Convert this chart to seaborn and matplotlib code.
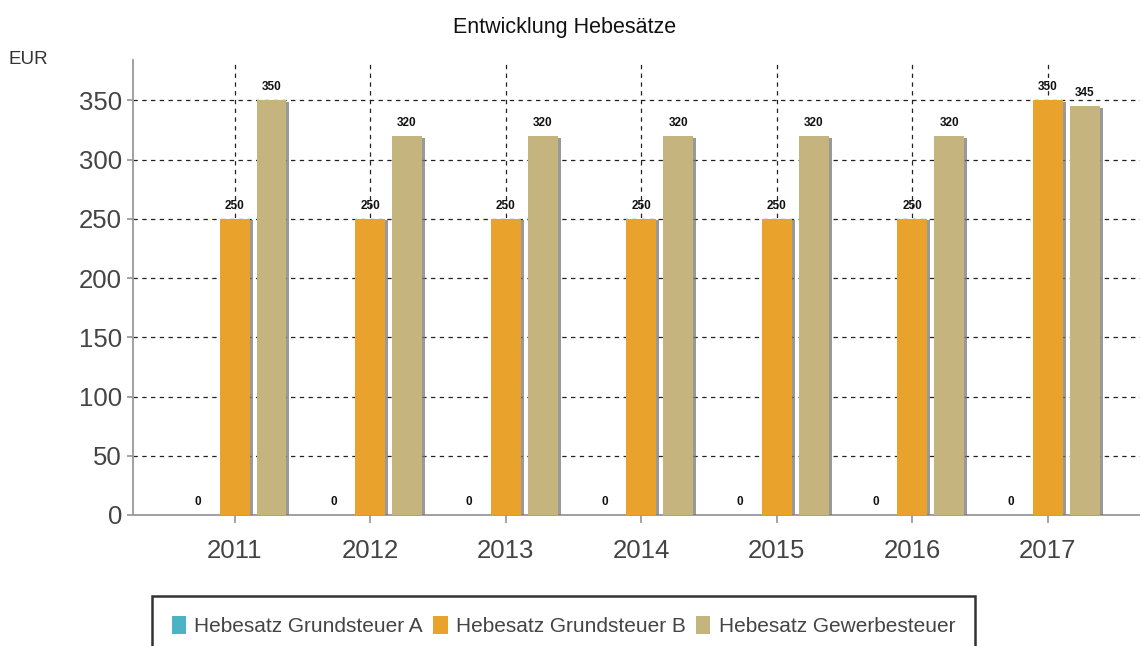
import matplotlib
matplotlib.use("Agg")
import numpy as np
import pandas as pd
import seaborn as sns
import matplotlib.pyplot as plt
import matplotlib.patheffects as pe
from matplotlib.patches import Patch

# ---- data ----
years = ["2011", "2012", "2013", "2014", "2015", "2016", "2017"]
series = ["Hebesatz Grundsteuer A", "Hebesatz Grundsteuer B", "Hebesatz Gewerbesteuer"]
grundsteuer_a = [0, 0, 0, 0, 0, 0, 0]
grundsteuer_b = [250, 250, 250, 250, 250, 250, 350]
gewerbesteuer = [350, 320, 320, 320, 320, 320, 345]
y_ticks = [0, 50, 100, 150, 200, 250, 300, 350]
colors = ["#4BB3C4", "#E9A22B", "#C6B47F"]

sns.set_theme(style="white")
plt.rcParams["font.family"] = ["Liberation Sans", "DejaVu Sans"]

df = pd.DataFrame({
    "Jahr": years * 3,
    "Wert": grundsteuer_a + grundsteuer_b + gewerbesteuer,
    "Reihe": [series[0]] * len(years) + [series[1]] * len(years) + [series[2]] * len(years),
})

fig = plt.figure(figsize=(11.4, 6.46), dpi=100)
ax = fig.add_axes([133 / 1140, 131 / 646, 1 - 133 / 1140, 455 / 646])

sns.barplot(data=df, x="Jahr", y="Wert", hue="Reihe", hue_order=series,
            palette=colors, saturation=1, width=0.816, gap=0.19,
            errorbar=None, legend=False, ax=ax, zorder=3, linewidth=0)

for p in ax.patches:
    p.set_path_effects([pe.SimplePatchShadow(offset=(2.2, -1.2), shadow_rgbFace="#777777", alpha=0.75),
                        pe.Normal()])

for cont in ax.containers:
    ax.bar_label(cont, fmt="%d", padding=5, fontsize=8.5, fontweight="bold", color="#111111")

ax.set_xlim(-0.75, 6.68)
ax.set_ylim(0, 384)
ax.set_yticks(y_ticks)
ax.set_axisbelow(True)
ax.grid(True, axis="both", linestyle=(0, (3.5, 3.5)), color="#222222", linewidth=0.9)

for s in ["top", "right"]:
    ax.spines[s].set_visible(False)
for s in ["left", "bottom"]:
    ax.spines[s].set_color("#999999")
    ax.spines[s].set_linewidth(1.3)

ax.tick_params(axis="y", left=True, length=4, color="#999999", labelsize=18.5, labelcolor="#444444", pad=4)
ax.tick_params(axis="x", bottom=True, length=6, color="#999999", labelsize=18.5, labelcolor="#444444", pad=11)
ax.set_xlabel("")
ax.set_ylabel("")

fig.text(8 / 1140, 1 - 60 / 646, "EUR", fontsize=13.5, color="#333333", ha="left", va="center")
fig.text(565 / 1140, 1 - 28 / 646, "Entwicklung Hebesätze", fontsize=15.5, color="#111111",
         ha="center", va="center")

handles = [Patch(facecolor=c, edgecolor="none") for c in colors]
leg = fig.legend(handles, series, loc="upper left", bbox_to_anchor=(152 / 1140, 1 - 596 / 646),
                 borderaxespad=0, ncol=3, fontsize=15, frameon=True, fancybox=False,
                 handlelength=0.68, handleheight=0.95, handletextpad=0.4, columnspacing=0.5,
                 borderpad=0.95, labelcolor="#444444")
leg.get_frame().set_edgecolor("#000000")
leg.get_frame().set_linewidth(1.8)

fig.savefig("out.png", dpi=100)
